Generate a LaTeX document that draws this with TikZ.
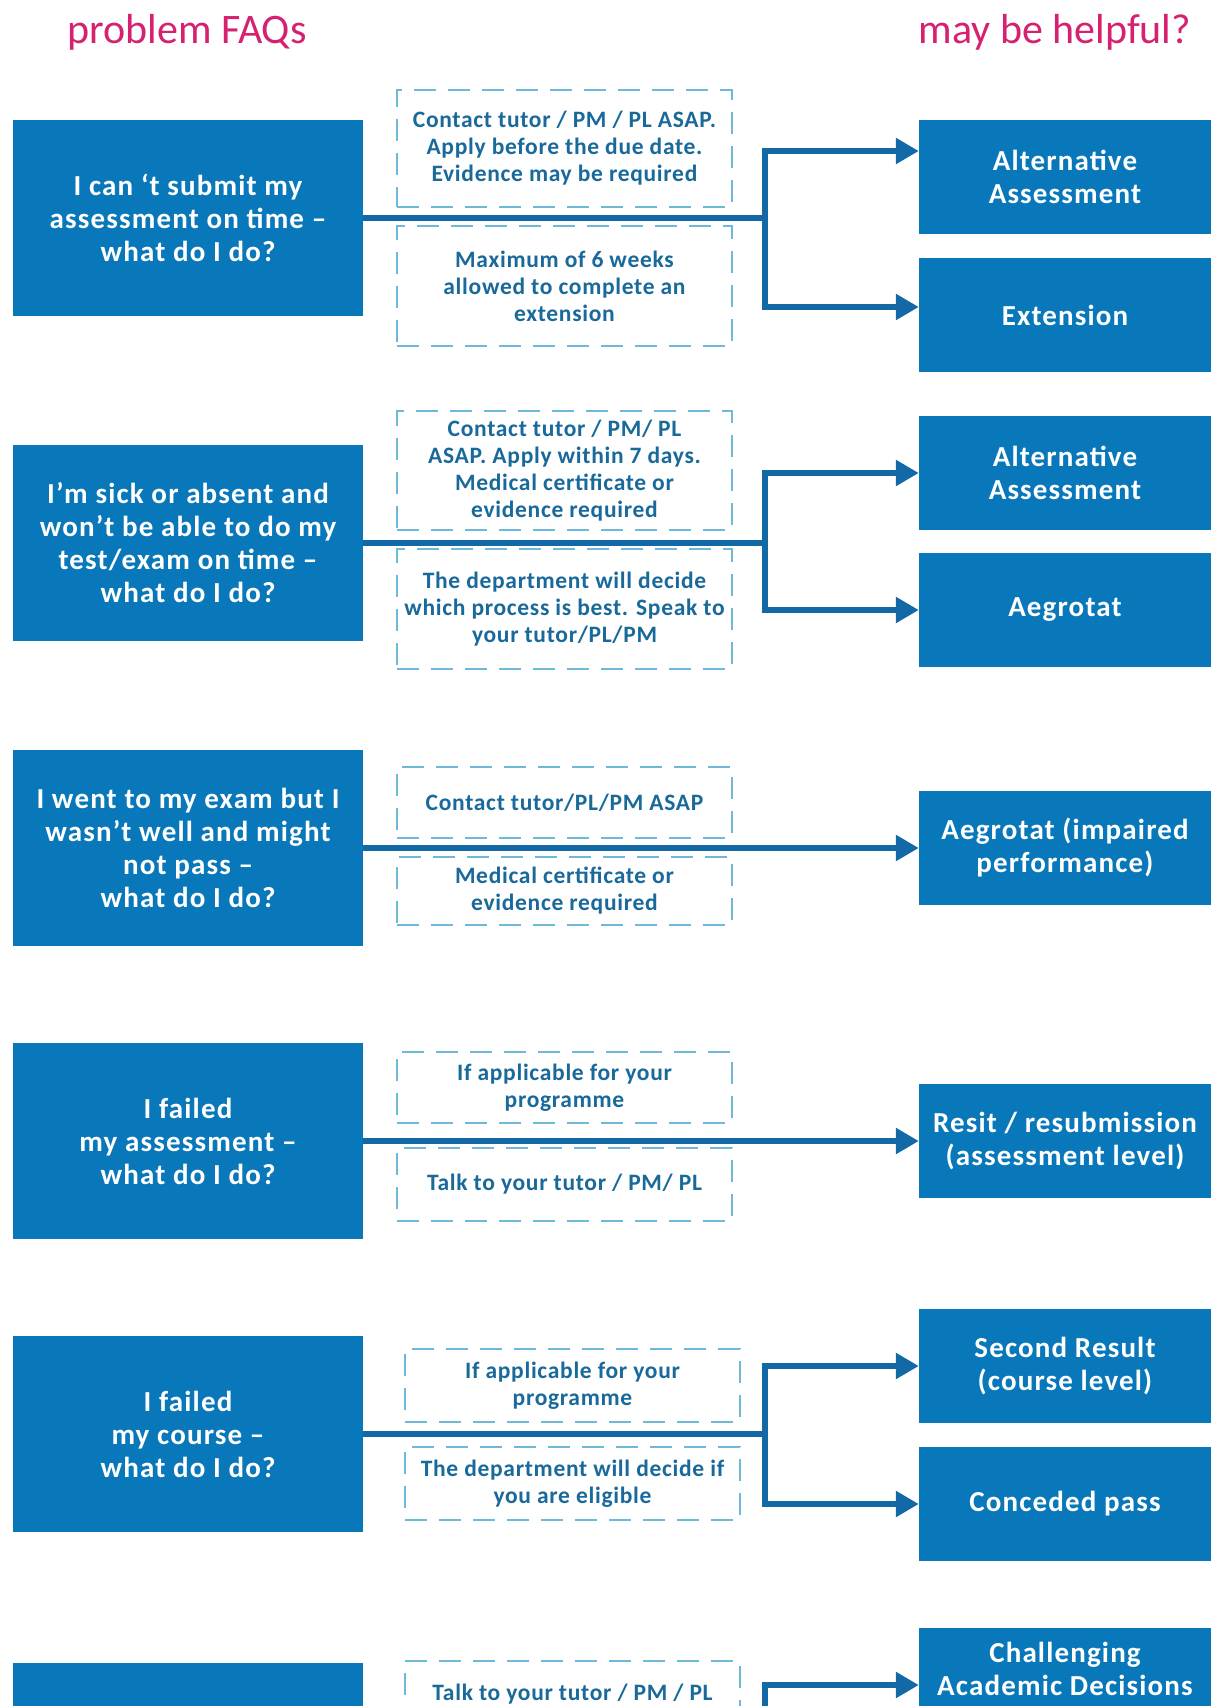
\documentclass[tikz,border=0pt]{standalone}
\usepackage{fontspec}
\setmainfont{Carlito}
\newfontfamily\boxfont[LetterSpace=4]{Carlito}
\newfontfamily\notefont[LetterSpace=3]{Carlito}
\usetikzlibrary{arrows.meta}
\definecolor{boxblue}{RGB}{8,120,186}
\definecolor{linkblue}{RGB}{18,105,165}
\definecolor{dashcol}{RGB}{110,185,215}
\definecolor{notecol}{RGB}{25,105,155}
\definecolor{titlepink}{RGB}{214,32,112}
\begin{document}
\begin{tikzpicture}[x=1pt,y=-1pt,
 qbox/.style={fill=boxblue, text=white, font=\boxfont\bfseries\fontsize{29}{33}\selectfont, align=center, minimum width=350pt, minimum height=196pt, inner sep=0pt},
 abox/.style={fill=boxblue, text=white, font=\boxfont\bfseries\fontsize{29}{33}\selectfont, align=center, minimum width=292pt, minimum height=114pt, inner sep=0pt},
 notebox/.style={draw=dashcol, line width=1.8pt, dash pattern=on 22pt off 12pt, text=notecol, font=\notefont\bfseries\fontsize{23.5}{27}\selectfont, align=center, minimum width=335pt, inner sep=0pt},
 conn/.style={draw=linkblue, line width=5.5pt},
 arr/.style={conn, -{Triangle[length=23pt,width=25pt]}},
 ttl/.style={text=titlepink, font=\fontsize{42}{50}\selectfont, anchor=base}
]
\useasboundingbox (0,0) rectangle (1213,1706);
\fill[white] (0,0) rectangle (1213,1706);
\clip (0,0) rectangle (1213,1706);

% titles
\node[ttl] (t1) at (187,43) {problem FAQs};
\node[ttl] (t2) at (1055,43) {may be helpful?};

% row 1
\node[qbox] (L1) at (188,218) {I can ‘t submit my\\assessment on time –\\what do I do?};
\node[notebox, minimum height=117pt] (N1a) at (564.5,148.5) {Contact tutor / PM / PL ASAP.\\Apply before the due date.\\Evidence may be required};
\node[notebox, minimum height=120pt] (N1b) at (564.5,286) {Maximum of 6 weeks\\allowed to complete an\\extension};
\node[abox] (R1a) at (1065,177) {Alternative\\Assessment};
\node[abox] (R1b) at (1065,315) {Extension};
\coordinate (j1) at (765,218);
\draw[conn] (L1.east) -- (j1);
\draw[arr] (j1) |- ([yshift=26pt]R1a.west);
\draw[arr] (j1) |- ([yshift=8pt]R1b.west);

% row 2
\node[qbox] (L2) at (188,543) {I’m sick or absent and\\won’t be able to do my\\test/exam on time –\\what do I do?};
\node[notebox, minimum height=119pt] (N2a) at (564.5,470.5) {Contact tutor / PM/ PL\\ASAP. Apply within 7 days.\\Medical certificate or\\evidence required};
\node[notebox, minimum height=120pt] (N2b) at (564.5,609) {The department will decide\\which process is best. Speak to\\your tutor/PL/PM};
\node[abox] (R2a) at (1065,473) {Alternative\\Assessment};
\node[abox] (R2b) at (1065,610) {Aegrotat};
\coordinate (j2) at (765,543);
\draw[conn] (L2.east) -- (j2);
\draw[arr] (j2) |- (R2a.west);
\draw[arr] (j2) |- (R2b.west);

% row 3
\node[qbox] (L3) at (188,848) {I went to my exam but I\\wasn’t well and might\\not pass –\\what do I do?};
\node[notebox, minimum height=71pt] (N3a) at (564.5,802.5) {Contact tutor/PL/PM ASAP};
\node[notebox, minimum height=68pt] (N3b) at (564.5,891) {Medical certificate or\\evidence required};
\node[abox] (R3) at (1065,848) {Aegrotat (impaired\\performance)};
\draw[arr] (L3.east) -- (R3.west);

% row 4
\node[qbox] (L4) at (188,1141) {I failed\\my assessment –\\what do I do?};
\node[notebox, minimum height=71pt] (N4a) at (564.5,1087.5) {If applicable for your\\programme};
\node[notebox, minimum height=73pt] (N4b) at (564.5,1184.5) {Talk to your tutor / PM/ PL};
\node[abox] (R4) at (1065,1141) {Resit / resubmission\\(assessment level)};
\draw[arr] (L4.east) -- (R4.west);

% row 5
\node[qbox] (L5) at (188,1434) {I failed\\my course –\\what do I do?};
\node[notebox, minimum height=73pt] (N5a) at (572.5,1385.5) {If applicable for your\\programme};
\node[notebox, minimum height=73pt] (N5b) at (572.5,1483.5) {The department will decide if\\you are eligible};
\node[abox] (R5a) at (1065,1366) {Second Result\\(course level)};
\node[abox] (R5b) at (1065,1504) {Conceded pass};
\coordinate (j5) at (765,1434);
\draw[conn] (L5.east) -- (j5);
\draw[arr] (j5) |- (R5a.west);
\draw[arr] (j5) |- (R5b.west);

% row 6 (cut off at the bottom)
\node[qbox] (L6) at (188,1761) {};
\node[notebox, minimum height=66pt] (N6) at (572.5,1694) {Talk to your tutor / PM / PL};
\node[abox] (R6) at (1065,1685) {Challenging\\Academic Decisions\\\mbox{}};
\coordinate (j6) at (765,1761);
\draw[conn] (L6.east) -- (j6);
\draw[arr] (j6) |- (R6.west);
\end{tikzpicture}
\end{document}
